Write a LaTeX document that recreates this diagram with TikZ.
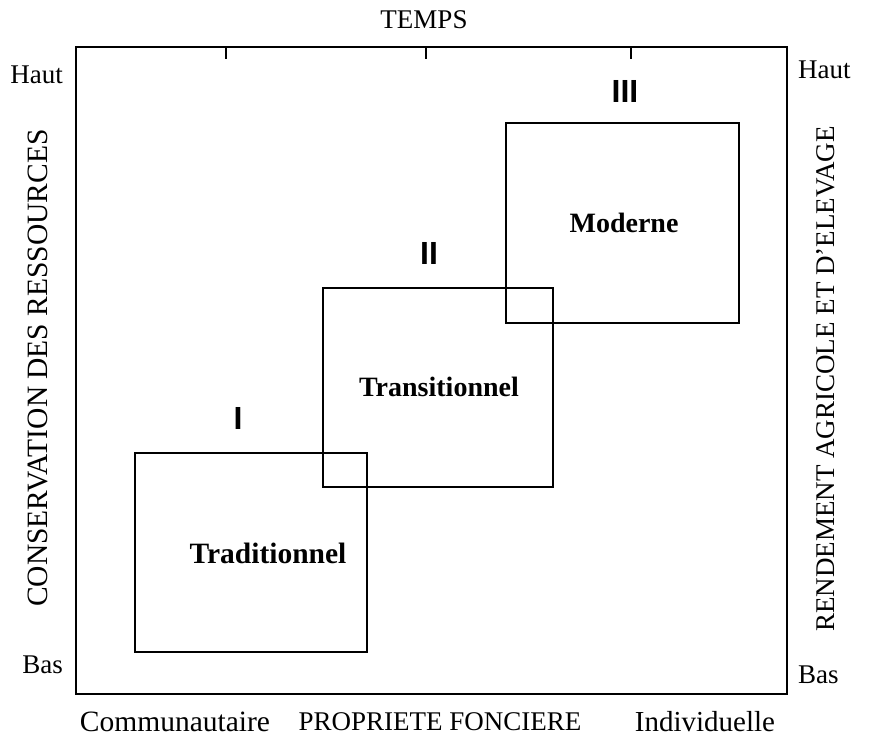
\documentclass[tikz,border=0pt]{standalone}
\usepackage{fontspec}
\setmainfont{Liberation Serif}
\newfontfamily\numfont{Liberation Sans}
\begin{document}
\begin{tikzpicture}[x=1pt,y=-1pt,
  frm/.style={draw, line width=2.4pt, inner sep=0pt, outer sep=0pt},
  zone/.style={draw, line width=2.8pt, inner sep=0pt, outer sep=0pt},
  txt/.style={inner sep=0pt, font=\fontsize{27}{30}\selectfont},
  bigtxt/.style={inner sep=0pt, font=\fontsize{29.5}{32}\selectfont},
  zlab/.style={inner sep=0pt, font=\fontsize{28}{30}\selectfont\bfseries},
  roman/.style={inner sep=0pt, font=\fontsize{32}{34}\selectfont\numfont\bfseries}]
\useasboundingbox (0,0) rectangle (869,745);
% frame
\node[frm, minimum width=711pt, minimum height=647pt] (frame) at (431.5,370.5) {};
% ticks
\coordinate (t1) at (226,47);
\coordinate (t2) at (426,47);
\coordinate (t3) at (631,47);
\draw[line width=2pt] (t1) -- ++(0,12);
\draw[line width=2pt] (t2) -- ++(0,12);
\draw[line width=2pt] (t3) -- ++(0,12);
% zones
\node[zone, minimum width=232pt, minimum height=199pt] (z1) at (251,552.5) {};
\node[zone, minimum width=230pt, minimum height=199pt] (z2) at (438,387.5) {};
\node[zone, minimum width=233pt, minimum height=200pt] (z3) at (622.5,223) {};
% zone labels
\node[zlab, font=\fontsize{29.5}{31}\selectfont\bfseries] (l1) at (268,553) {Traditionnel};
\node[zlab] (l2) at (439,387) {Transitionnel};
\node[zlab] (l3) at (624,223) {Moderne};
% roman numerals
\node[roman] (r1) at (238,418) {I};
\node[roman] (r2) at (429,253) {II};
\node[roman] (r3) at (625,91) {III};
% axis texts
\node[txt] (temps) at (424,20) {TEMPS};
\node[txt, anchor=east] (hautl) at (63,75) {Haut};
\node[txt, anchor=east] (basl) at (63,665) {Bas};
\node[txt, anchor=west] (hautr) at (798,70) {Haut};
\node[txt, anchor=west] (basr) at (798,675) {Bas};
\node[bigtxt] (comm) at (175,722) {Communautaire};
\node[txt] (prop) at (440,722) {PROPRIETE FONCIERE};
\node[bigtxt, font=\fontsize{29}{32}\selectfont] (indiv) at (705,722) {Individuelle};
\node[bigtxt, rotate=90] (cons) at (38,368) {CONSERVATION DES RESSOURCES};
\node[txt, rotate=90] (rend) at (826,379) {RENDEMENT AGRICOLE ET D'ELEVAGE};
\end{tikzpicture}
\end{document}
